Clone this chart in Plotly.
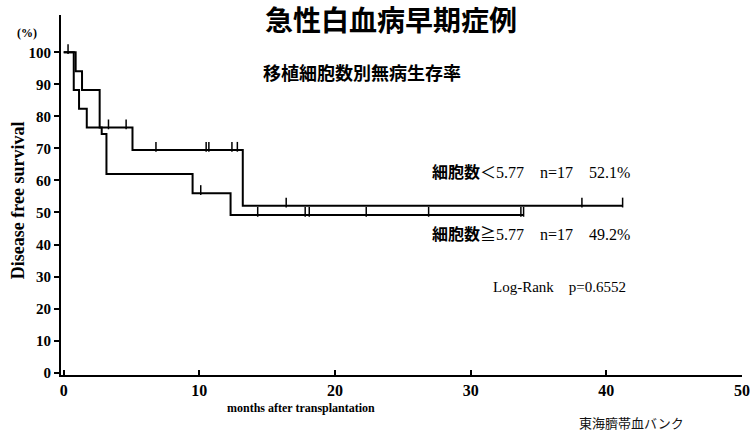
import plotly.graph_objects as go

# ---- data ----
# Group A: cell count < 5.77 (n=17, 52.1%)
a_time = [0, 0.88, 1.35, 2.65, 5.07, 13.2, 41.2]
a_surv = [100, 94.1, 88.2, 76.5, 69.5, 52.1, 52.1]
a_cens = [0.32, 3.3, 4.6, 6.8, 10.5, 10.7, 12.4, 12.8, 16.4, 38.2, 41.2]

# Group B: cell count >= 5.77 (n=17, 49.2%)
b_time = [0, 0.74, 1.13, 1.7, 2.8, 3.15, 9.5, 12.3, 33.9]
b_surv = [100, 88.2, 82.4, 76.5, 74.5, 62.0, 56.0, 49.2, 49.2]
b_cens = [10.1, 14.3, 17.8, 18.1, 22.3, 26.9, 33.7, 33.9]

x_ticks = [0, 10, 20, 30, 40, 50]
y_ticks = [0, 10, 20, 30, 40, 50, 60, 70, 80, 90, 100]

SERIF = "Liberation Serif, Times New Roman, Noto Sans CJK JP, serif"
CJK = "Noto Sans CJK JP, sans-serif"


def step_value(times, surv, t):
    v = surv[0]
    for ti, si in zip(times, surv):
        if ti <= t:
            v = si
    return v


fig = go.Figure()
for times, surv, cens in [(a_time, a_surv, a_cens), (b_time, b_surv, b_cens)]:
    fig.add_trace(go.Scatter(x=times, y=surv, mode="lines", line_shape="hv",
                             line=dict(color="black", width=2), showlegend=False,
                             hoverinfo="skip"))
    fig.add_trace(go.Scatter(x=cens, y=[step_value(times, surv, t) + 1.0 for t in cens],
                             mode="markers",
                             marker=dict(symbol="line-ns", size=7,
                                         line=dict(color="black", width=1.5)),
                             showlegend=False, hoverinfo="skip"))

ann = []
ann.append(dict(text="<b>急性白血病早期症例</b>", x=0.485, y=0.988, xref="paper", yref="paper",
                showarrow=False, font=dict(family=CJK, size=28, color="black"),
                xanchor="center", yanchor="middle"))
ann.append(dict(text="<b>移植細胞数別無病生存率</b>", x=22.0, y=93.8, showarrow=False,
                font=dict(family=CJK, size=18, color="black"), xanchor="center", yanchor="middle"))
ann.append(dict(text="<b>細胞数</b>＜5.77    n=17    52.1%", x=41.9, y=62.6, showarrow=False,
                font=dict(family=SERIF, size=16, color="black"), xanchor="right", yanchor="middle"))
ann.append(dict(text="<b>細胞数</b>≧5.77    n=17    49.2%", x=41.9, y=43.0, showarrow=False,
                font=dict(family=SERIF, size=16, color="black"), xanchor="right", yanchor="middle"))
ann.append(dict(text="Log-Rank    p=0.6552", x=41.6, y=26.7, showarrow=False,
                font=dict(family=SERIF, size=15, color="black"), xanchor="right", yanchor="middle"))
ann.append(dict(text="<b>(%)</b>", x=-0.05, y=0.95, xref="paper", yref="paper", showarrow=False,
                font=dict(family=SERIF, size=12, color="black"), xanchor="center", yanchor="middle"))
ann.append(dict(text="<b>Disease free survival</b>", x=-0.063, y=0.486, xref="paper", yref="paper",
                showarrow=False, textangle=-90,
                font=dict(family=SERIF, size=18, color="black"), xanchor="center", yanchor="middle"))
ann.append(dict(text="<b>months after transplantation</b>", x=0.353, y=-0.092, xref="paper",
                yref="paper", showarrow=False,
                font=dict(family=SERIF, size=12, color="black"), xanchor="center", yanchor="middle"))
ann.append(dict(text="東海臍帯血バンク", x=0.838, y=-0.131, xref="paper", yref="paper",
                showarrow=False, font=dict(family=CJK, size=13, color="#111111"),
                xanchor="center", yanchor="middle"))

fig.update_layout(
    width=750, height=434,
    margin=dict(l=61, r=8, t=15, b=59, autoexpand=False),
    paper_bgcolor="white", plot_bgcolor="white",
    annotations=ann,
    xaxis=dict(range=[-0.2, 50], tickvals=x_ticks, ticktext=[str(v) for v in x_ticks],
               showline=True, linecolor="black", linewidth=2, ticks="inside", ticklen=5,
               tickwidth=1.5, tickcolor="black", showgrid=False, zeroline=False,
               automargin=False, ticklabeloverflow="allow",
               tickfont=dict(family=SERIF, size=16, color="black", weight="bold")),
    yaxis=dict(range=[-0.72, 111.64], tickvals=y_ticks, ticktext=[str(v) for v in y_ticks],
               showline=True, linecolor="black", linewidth=2, ticks="outside", ticklen=5,
               tickwidth=1.5, tickcolor="black", showgrid=False, zeroline=False,
               automargin=False,
               tickfont=dict(family=SERIF, size=15, color="black", weight="bold")),
)

fig.write_html("out.html", config={"displayModeBar": False},
               post_script="document.body.style.margin='0px';document.body.style.overflow='hidden';")
